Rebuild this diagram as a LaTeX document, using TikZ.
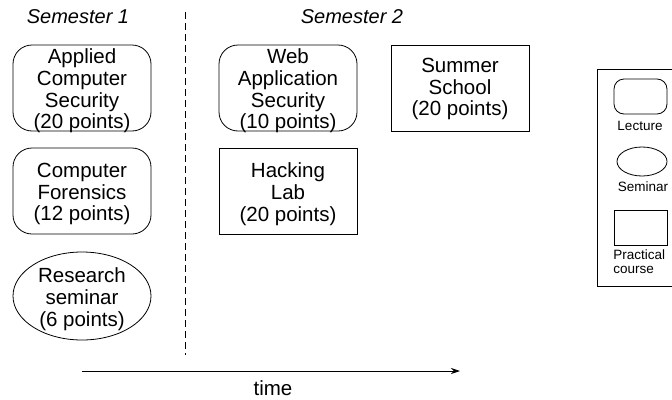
\documentclass[tikz,border=0pt]{standalone}
\usepackage{fontspec}
\setmainfont{Liberation Sans}
\usetikzlibrary{shapes.geometric,arrows.meta}
\begin{document}
\begin{tikzpicture}[x=1pt,y=-1pt, line width=0.8pt,
  txt/.style={font=\fontsize{20.5}{21.7}\selectfont, align=center, inner sep=0pt},
  intxt/.style={txt, yshift=-3pt},
  head/.style={font=\fontsize{20}{22}\selectfont\itshape, inner sep=0pt},
  lecture/.style={draw, rounded corners=19pt, minimum width=138pt, minimum height=86pt, inner sep=0pt},
  practical/.style={draw, minimum width=138pt, minimum height=86pt, inner sep=0pt},
  seminar/.style={draw, ellipse, minimum width=138pt, minimum height=88pt, inner sep=0pt},
  small/.style={font=\fontsize{13.5}{14.5}\selectfont, inner sep=0pt},
  divider/.style={dash pattern=on 7pt off 4pt},
  timearrow/.style={-{Stealth[length=9pt,width=6pt]}}]
\useasboundingbox (0,0) rectangle (672,399);
\clip (0,0) rectangle (672,399);
% headings
\node[head] (sem1) at (78,17) {Semester 1};
\node[head] (sem2) at (352,17) {Semester 2};
% divider
\coordinate (dtop) at (185,12);
\coordinate (dbot) at (185,355);
\draw[divider] (dtop) -- (dbot);
% semester 1
\node[lecture] (acs) at (82,88) {};
\node[intxt] (acst) at (acs) {Applied\\Computer\\Security\\(20 points)};
\node[lecture] (cf) at (82,191) {};
\node[intxt] (cft) at (cf) {Computer\\Forensics\\(12 points)};
\node[seminar] (rs) at (82,296) {};
\node[intxt] (rst) at (rs) {Research\\seminar\\(6 points)};
% semester 2
\node[lecture] (was) at (288,88) {};
\node[intxt] (wast) at (was) {Web\\Application\\Security\\(10 points)};
\node[practical] (hl) at (288,191) {};
\node[intxt] (hlt) at (hl) {Hacking\\Lab\\(20 points)};
\node[practical] (ss) at (460,88) {};
\node[txt, yshift=-1pt] (sst) at (ss) {Summer\\School\\(20 points)};
% time arrow
\coordinate (tstart) at (82,371);
\coordinate (tend) at (460,371);
\draw[timearrow] (tstart) -- (tend);
\node[txt] (time) at (273,388) {time};
% legend
\node[draw, minimum width=100pt, minimum height=217pt, anchor=north west, inner sep=0pt] (legend) at (597,69) {};
\node[draw, rounded corners=10pt, minimum width=53pt, minimum height=35pt, inner sep=0pt] (lglec) at (640.5,96.5) {};
\node[small] (lglectxt) at (640,126) {Lecture};
\node[draw, ellipse, minimum width=50pt, minimum height=29pt, inner sep=0pt] (lgsem) at (642,161.5) {};
\node[small] (lgsemtxt) at (643,187) {Seminar};
\node[draw, minimum width=53pt, minimum height=35pt, inner sep=0pt] (lgprac) at (640.5,227.5) {};
\node[small, align=left, anchor=north west] (lgpractxt) at (613,249) {Practical\\course};
\end{tikzpicture}
\end{document}
